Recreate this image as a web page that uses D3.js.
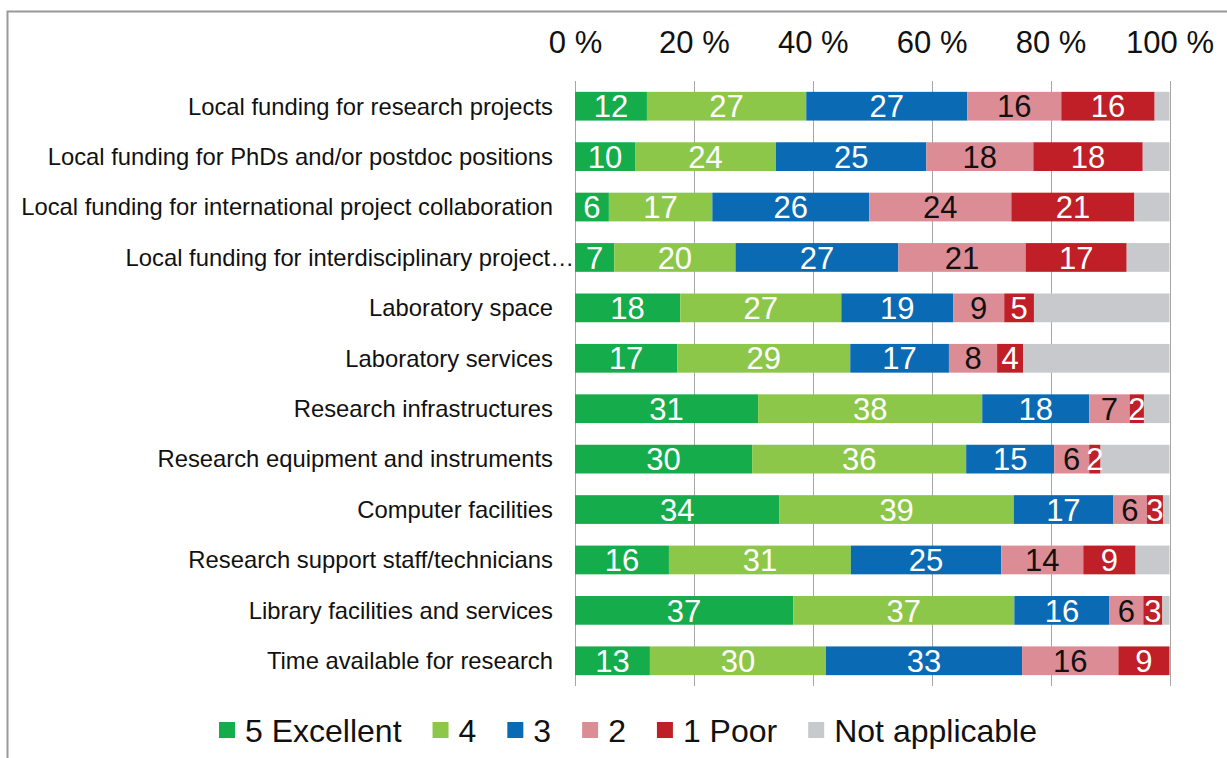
<!DOCTYPE html>
<html lang="en">
<meta charset="utf-8">
<head>
  <script src="https://d3js.org/d3.v7.min.js"></script>
</head>
<body>
  <div id="my_dataviz"></div>

  <script>
    // categories and shares (%)
    var categories = [
      "Local funding for research projects",
      "Local funding for PhDs and/or postdoc positions",
      "Local funding for international project collaboration",
      "Local funding for interdisciplinary project\u2026",
      "Laboratory space",
      "Laboratory services",
      "Research infrastructures",
      "Research equipment and instruments",
      "Computer facilities",
      "Research support staff/technicians",
      "Library facilities and services",
      "Time available for research"
    ];
    var excellent = [12.1, 10.1, 5.7, 6.6, 17.7, 17.2, 30.8, 29.8, 34.4, 15.8, 36.7, 12.6];
    var four = [26.8, 23.7, 17.4, 20.4, 27.1, 29.1, 37.7, 36.0, 39.4, 30.6, 37.2, 29.6];
    var three = [27.1, 25.3, 26.4, 27.4, 18.8, 16.6, 18.0, 14.8, 16.7, 25.3, 16.0, 33.0];
    var two = [15.8, 18.0, 23.9, 21.4, 8.6, 8.1, 6.8, 5.9, 5.7, 13.8, 5.7, 16.2];
    var poor = [15.7, 18.4, 20.7, 17.0, 5.0, 4.4, 2.4, 1.9, 2.7, 8.8, 3.2, 8.6];
    var notApplicable = [2.5, 4.5, 5.9, 7.2, 22.8, 24.6, 4.3, 11.6, 1.1, 5.7, 1.2, 0];

    var seriesNames = ["5 Excellent", "4", "3", "2", "1 Poor", "Not applicable"];
    var seriesValues = [excellent, four, three, two, poor, notApplicable];
    var colors = ["#15ac4b", "#8dc74a", "#0b6ab4", "#dc8c95", "#c01f27", "#c7c9cc"];
    var labelColors = ["#fff", "#fff", "#fff", "#111", "#fff", null];
    var tickValues = [0, 20, 40, 60, 80, 100];

    // table for d3.stack
    var rows = categories.map(function (c, i) {
      var r = { category: c };
      seriesNames.forEach(function (s, j) { r[s] = seriesValues[j][i]; });
      return r;
    });

    var W = 1227, H = 758;
    var svg = d3.select("#my_dataviz")
      .append("svg")
      .attr("width", W)
      .attr("height", H)
      .style("font-family", "Arial, 'Liberation Sans', sans-serif");

    // frame
    svg.append("rect")
      .attr("x", 7.5).attr("y", 11.5)
      .attr("width", 1240).attr("height", 770)
      .attr("fill", "white")
      .attr("stroke", "#999")
      .attr("stroke-width", 2);

    var x = d3.scaleLinear().domain([0, 100]).range([575, 1169.5]);
    var y = d3.scaleBand().domain(categories).range([81, 686]).paddingInner(0.43).paddingOuter(0.215);

    // gridlines
    svg.append("g")
      .selectAll("line")
      .data(tickValues)
      .join("line")
      .attr("x1", function (d) { return Math.round(x(d)) + 0.5; })
      .attr("x2", function (d) { return Math.round(x(d)) + 0.5; })
      .attr("y1", 81)
      .attr("y2", 686)
      .attr("stroke", "#a6a6a6")
      .attr("stroke-width", 1);

    // top axis labels
    var xAxis = svg.append("g")
      .attr("transform", "translate(0,64)")
      .call(d3.axisTop(x).tickValues(tickValues).tickSize(0).tickPadding(11)
        .tickFormat(function (d) { return d + " %"; }));
    xAxis.select(".domain").remove();
    xAxis.selectAll("text")
      .attr("font-size", 31)
      .attr("font-family", "Arial, 'Liberation Sans', sans-serif")
      .attr("fill", "#111");

    // category labels
    svg.append("g")
      .selectAll("text")
      .data(categories)
      .join("text")
      .attr("x", function (d) { return d.endsWith("\u2026") ? 574 : 553; })
      .attr("y", function (d) { return y(d) + y.bandwidth() / 2; })
      .attr("dy", "0.35em")
      .attr("text-anchor", "end")
      .attr("font-size", 23.8)
      .attr("fill", "#111")
      .text(function (d) { return d; });

    var stack = d3.stack().keys(seriesNames).offset(d3.stackOffsetExpand);
    var stacked = stack(rows);

    var layers = svg.append("g")
      .selectAll("g")
      .data(stacked)
      .join("g")
      .attr("fill", function (d, i) { return colors[i]; });

    layers.selectAll("rect")
      .data(function (d) { return d; })
      .join("rect")
      .attr("x", function (d) { return x(d[0] * 100); })
      .attr("y", function (d) { return y(d.data.category); })
      .attr("width", function (d) { return Math.max(0, x(d[1] * 100) - x(d[0] * 100)); })
      .attr("height", y.bandwidth());

    // value labels
    stacked.forEach(function (layer, i) {
      if (!labelColors[i]) return;
      svg.append("g")
        .selectAll("text")
        .data(layer)
        .join("text")
        .attr("x", function (d) { return (x(d[0] * 100) + x(d[1] * 100)) / 2; })
        .attr("y", function (d) { return y(d.data.category) + y.bandwidth() / 2; })
        .attr("dy", "0.36em")
        .attr("text-anchor", "middle")
        .attr("font-size", 31)
        .attr("fill", labelColors[i])
        .text(function (d) { return Math.round(d.data[layer.key]); });
    });

    // legend
    var legend = svg.append("g").attr("transform", "translate(219,730)");
    var lx = 0;
    seriesNames.forEach(function (s, i) {
      var g = legend.append("g").attr("transform", "translate(" + lx + ",0)");
      g.append("rect")
        .attr("x", 0).attr("y", -8)
        .attr("width", 16).attr("height", 16)
        .attr("fill", colors[i]);
      var t = g.append("text")
        .attr("x", 26)
        .attr("dy", "0.36em")
        .attr("font-size", 32)
        .attr("fill", "#111")
        .text(s);
      lx += 26 + t.node().getComputedTextLength() + 31;
    });
  </script>

  <style>
    body {
      margin: 0;
      background-color: white;
    }
  </style>
</body>
</html>
